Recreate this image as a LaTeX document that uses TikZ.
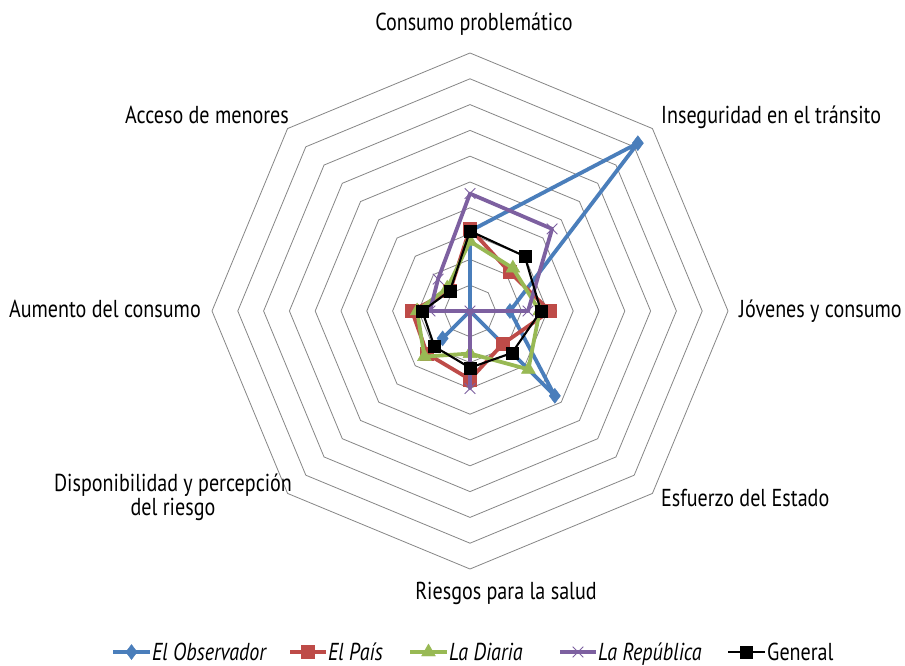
\documentclass[tikz,border=0pt]{standalone}
\usepackage{fontspec}
\setmainfont{PT Sans}[FakeStretch=0.82]
\usetikzlibrary{plotmarks}
\definecolor{cblue}{HTML}{4A7EBB}
\definecolor{cred}{HTML}{BE4B48}
\definecolor{cgreen}{HTML}{98B954}
\definecolor{cpurple}{HTML}{7D60A0}
\definecolor{cgrid}{HTML}{868686}
\begin{document}
\begin{tikzpicture}[x=1pt,y=1pt,
  lbl/.style={font=\fontsize{24.5}{26}\selectfont, inner sep=0pt},
  gridring/.style={cgrid, line width=0.8pt},
  sblue/.style={cblue, line width=3.8pt, line join=round},
  sred/.style={cred, line width=3.8pt, line join=round},
  sgreen/.style={cgreen, line width=3.8pt, line join=round},
  spurple/.style={cpurple, line width=3.8pt, line join=round},
  sblack/.style={black, line width=2.1pt, line join=round},
  mblue/.style={cblue, mark=diamond*, mark size=7.5pt, mark options={fill=cblue, line width=0.4pt}},
  mred/.style={cred, mark=square*, mark size=6.5pt, mark options={fill=cred, line width=0.4pt}},
  mgreen/.style={cgreen, mark=triangle*, mark size=8pt, mark options={fill=cgreen, line width=0.4pt}},
  mpurple/.style={cpurple, mark=x, mark size=7.5pt, mark options={line width=0.9pt}},
  mblack/.style={black, mark=square*, mark size=6pt, mark options={fill=black, line width=0.4pt}}]
\useasboundingbox (0,0) rectangle (905,665);
\fill[white] (0,0) rectangle (905,665);
\begin{scope}[shift={(470pt,354pt)}, x=25.8pt, y=25.8pt]
  \foreach \r in {1,...,10}
    \draw[gridring] (90:\r) -- (45:\r) -- (0:\r) -- (-45:\r) -- (-90:\r) -- (-135:\r) -- (180:\r) -- (135:\r) -- cycle;
  % El Observador
  \draw[sblue] (90:3.1) -- (45:9.2) -- (0:1.55) -- (-45:4.65) -- (-90:0) -- (-135:1.5) -- (180:0) -- (135:0) -- cycle;
  \path[mblue] plot[only marks] coordinates {(90:3.1) (45:9.2) (0:1.55) (-45:4.65) (-135:1.5)};
  % El Pais
  \draw[sred] (90:3.2) -- (45:2.15) -- (0:3.1) -- (-45:1.8) -- (-90:2.65) -- (-135:2.35) -- (180:2.25) -- (135:1.1) -- cycle;
  \path[mred] plot[only marks] coordinates {(90:3.2) (45:2.15) (0:3.1) (-45:1.8) (-90:2.65) (-135:2.35) (180:2.25) (135:1.1)};
  % La Diaria
  \draw[sgreen] (90:2.7) -- (45:2.35) -- (0:2.7) -- (-45:3.2) -- (-90:1.65) -- (-135:2.5) -- (180:2.05) -- (135:1.25) -- cycle;
  \path[mgreen] plot[only marks] coordinates {(90:2.7) (45:2.35) (0:2.7) (-45:3.2) (-90:1.65) (-135:2.5) (180:2.05) (135:1.25)};
  % La Republica
  \draw[spurple] (90:4.55) -- (45:4.5) -- (0:2.25) -- (-45:0) -- (-90:3.0) -- (-135:0) -- (180:1.55) -- (135:1.75) -- cycle;
  \path[mpurple] plot[only marks] coordinates {(90:4.55) (45:4.5) (0:2.25) (0:0) (-90:3.0) (180:1.55) (135:1.75)};
  % General
  \draw[sblack] (90:3.1) -- (45:3.0) -- (0:2.75) -- (-45:2.3) -- (-90:2.2) -- (-135:1.95) -- (180:1.85) -- (135:1.1) -- cycle;
  \path[mblack] plot[only marks] coordinates {(90:3.1) (45:3.0) (0:2.75) (-45:2.3) (-90:2.2) (-135:1.95) (180:1.85) (135:1.1)};
\end{scope}
% axis labels
\node[lbl, anchor=base] (l1) at (474,634) {Consumo problemático};
\node[lbl, anchor=base west] (l2) at (661,541) {Inseguridad en el tránsito};
\node[lbl, anchor=base west] (l3) at (739,347) {Jóvenes y consumo};
\node[lbl, anchor=base west] (l4) at (661,159) {Esfuerzo del Estado};
\node[lbl, anchor=base] (l5) at (506,66) {Riesgos para la salud};
\node[lbl, anchor=base, align=center, font=\fontsize{24.5}{21}\selectfont] (l6) at (173,150) {Disponibilidad y percepción\\del riesgo};
\node[lbl, anchor=base east] (l7) at (201,347) {Aumento del consumo};
\node[lbl, anchor=base east] (l8) at (289,541) {Acceso de menores};
% legend
\draw[sblue] (113,13) -- (150,13);
\path[mblue] plot[only marks] coordinates {(131.5,13)};
\node[lbl, anchor=base west] (g1) at (152,5) {\itshape El Observador};
\draw[sred] (290,13) -- (326,13);
\path[mred] plot[only marks] coordinates {(308,13)};
\node[lbl, anchor=base west] (g2) at (328,5) {\itshape El País};
\draw[sgreen] (410,13) -- (447,13);
\path[mgreen] plot[only marks] coordinates {(428.5,13)};
\node[lbl, anchor=base west] (g3) at (449,5) {\itshape La Diaria};
\draw[spurple] (560,13) -- (596,13);
\path[mpurple] plot[only marks] coordinates {(578,13)};
\node[lbl, anchor=base west] (g4) at (598,5) {\itshape La República};
\draw[sblack] (728,13) -- (765,13);
\path[mblack] plot[only marks] coordinates {(746.5,13)};
\node[lbl, anchor=base west] (g5) at (767,5) {General};
\end{tikzpicture}
\end{document}
